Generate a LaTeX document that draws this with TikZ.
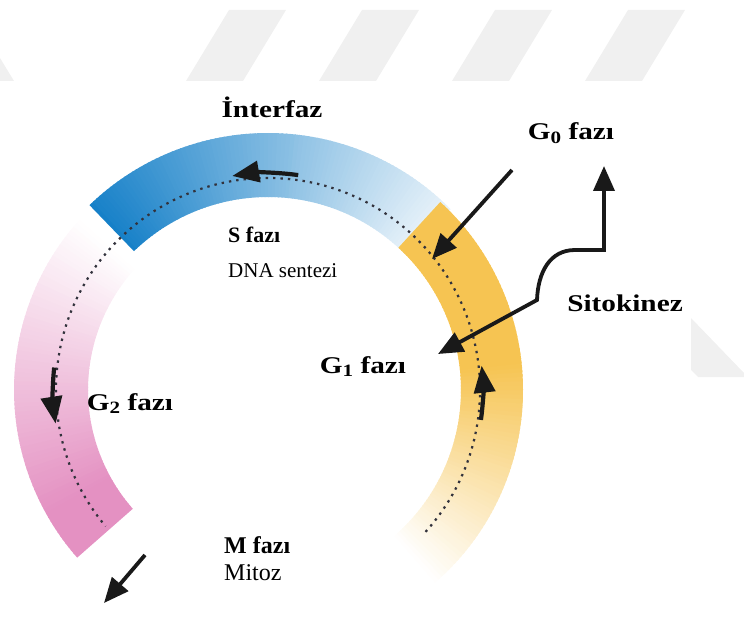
\documentclass[tikz,border=0pt]{standalone}
\usepackage{fontspec}
\setmainfont{Liberation Serif}
\newfontfamily\widefont[FakeStretch=1.22]{Liberation Serif}
\usetikzlibrary{arrows.meta}
\definecolor{sblue}{RGB}{22,128,200}
\definecolor{gyellow}{RGB}{246,196,82}
\definecolor{mpink}{RGB}{228,145,194}
\definecolor{stripegray}{RGB}{240,240,240}
\definecolor{dotgray}{RGB}{50,50,60}
\newcommand{\lowdigit}[1]{\raisebox{-0.3ex}{\scalebox{0.72}{#1}}}
\begin{document}
\begin{tikzpicture}[x=1pt, y=1pt,
        phase/.style={font=\widefont\bfseries\fontsize{24}{28}\selectfont, inner sep=0pt, anchor=base},
        note/.style={font=\fontsize{21}{25}\selectfont, inner sep=0pt, anchor=base west},
        dotline/.style={dotgray, line width=2.2pt, dash pattern=on 2.4pt off 5pt},
        cyclearrow/.style={black!90, line width=4.2pt, -{Triangle[length=27pt, width=21pt]}},
        bigarrow/.style={black!90, line width=3.8pt, -{Triangle[length=25pt, width=21pt]}}
    ]
    \useasboundingbox (0,0) rectangle (744,-620);
    % watermark stripes
    \foreach \s in {0,1,2,3} {
        \fill[stripegray] (186+133*\s,-81) -- (243+133*\s,-81) -- (286+133*\s,-10) -- (229+133*\s,-10) -- cycle;
    }
    \fill[stripegray] (0,-58) -- (14,-81) -- (0,-81) -- cycle;
    \fill[stripegray] (691,-318) -- (744,-373) -- (744,-377) -- (698,-377) -- (691,-370) -- cycle;
    % bands
    \begin{scope}[shift={(268,-390)}]
        \foreach \a in {0,...,88} {
            \pgfmathtruncatemacro{\p}{100-\a*1.02}
            \fill[sblue!\p!white] (134-\a:193) arc[start angle=134-\a, end angle=132.7-\a, radius=193]
                -- (132.7-\a:257) arc[start angle=132.7-\a, end angle=134-\a, radius=257] -- cycle;
        }
        \foreach \a in {137,...,220} {
            \pgfmathtruncatemacro{\p}{min(100,(\a-137)*1.4)}
            \fill[mpink!\p!white] (\a:180) arc[start angle=\a, end angle=\a+1.3, radius=180]
                -- (\a+1.3:254) arc[start angle=\a+1.3, end angle=\a, radius=254] -- cycle;
        }
        \foreach \a in {-50,...,46} {
            \pgfmathtruncatemacro{\p}{min(100,(\a+50)*1.8)}
            \fill[gyellow!\p!white] (\a:193) arc[start angle=\a, end angle=\a+1.5, radius=193]
                -- (\a+1.5:255) arc[start angle=\a+1.5, end angle=\a, radius=255] -- cycle;
        }
        % cycle path
        \draw[dotline] (-42:212) arc[start angle=-42, end angle=220, radius=212];
        \draw[cyclearrow] (-8:215) arc[start angle=-8, end angle=6.5, radius=215];
        \draw[cyclearrow] (82:217) arc[start angle=82, end angle=99.5, radius=217];
        \draw[cyclearrow] (174:215) arc[start angle=174, end angle=189, radius=215];
    \end{scope}
    % labels
    \node[phase] (interfaz) at (272,-118) {İnterfaz};
    \node[phase] (g0) at (571,-140) {G\lowdigit{0} fazı};
    \node[phase] (sito) at (625,-311) {Sitokinez};
    \node[phase] (g1) at (363,-373) {G\lowdigit{1} fazı};
    \node[phase] (g2) at (130,-410) {G\lowdigit{2} fazı};
    \node[note, font=\bfseries\fontsize{22}{26}\selectfont] (sfaz) at (228,-243) {S fazı};
    \node[note] (dna) at (228,-277) {DNA sentezi};
    \node[note, font=\bfseries\fontsize{24}{28}\selectfont] (mfaz) at (224,-553) {M fazı};
    \node[note, font=\fontsize{24}{28}\selectfont] (mitoz) at (224,-580) {Mitoz};
    % arrows
    \coordinate (g0from) at (512,-170);
    \coordinate (g0to) at (432,-259);
    \coordinate (sitotop) at (604,-166);
    \coordinate (sitocorner) at (604,-250);
    \coordinate (sitobend) at (575,-250);
    \coordinate (sitodrop) at (537,-300);
    \coordinate (sitotip) at (438,-354);
    \coordinate (mfrom) at (145,-555);
    \coordinate (mto) at (104,-603);
    \draw[bigarrow] (g0from) -- (g0to);
    \draw[bigarrow, {Triangle[length=25pt, width=21pt]}-{Triangle[length=25pt, width=21pt]}] (sitotop) -- (sitocorner) -- (sitobend)
        .. controls (550,-250) and (538,-272) .. (sitodrop) -- (sitotip);
    \draw[bigarrow] (mfrom) -- (mto);
\end{tikzpicture}
\end{document}
